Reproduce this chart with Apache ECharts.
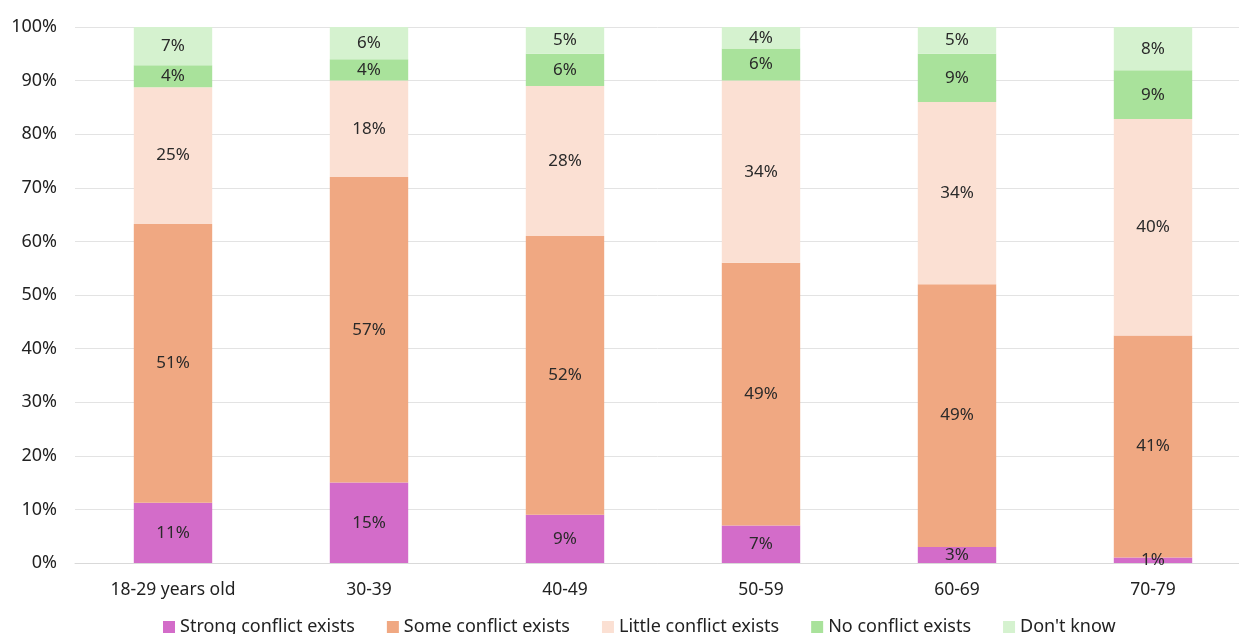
<!DOCTYPE html>
<html>
<head>
<meta charset="utf-8">
<script src="https://cdn.jsdelivr.net/npm/echarts@6/dist/echarts.min.js"></script>
<style>
html,body{margin:0;padding:0;background:#fff;}
#chart{width:1239px;height:634px;}
</style>
</head>
<body>
<div id="chart"></div>
<script>
const categories = ['18-29 years old', '30-39', '40-49', '50-59', '60-69', '70-79'];
const strongConflict = [11, 15, 9, 7, 3, 1];
const someConflict = [51, 57, 52, 49, 49, 41];
const littleConflict = [25, 18, 28, 34, 34, 40];
const noConflict = [4, 4, 6, 6, 9, 9];
const dontKnow = [7, 6, 5, 4, 5, 8];
const yTicks = ['0%', '10%', '20%', '30%', '40%', '50%', '60%', '70%', '80%', '90%', '100%'];

const seriesDefs = [
  { name: 'Strong conflict exists', data: strongConflict, color: '#d36cc9' },
  { name: 'Some conflict exists', data: someConflict, color: '#f0a882' },
  { name: 'Little conflict exists', data: littleConflict, color: '#fbe0d3' },
  { name: 'No conflict exists', data: noConflict, color: '#a9e29b' },
  { name: "Don't know", data: dontKnow, color: '#d5f2cf' }
];

const totals = categories.map((_, i) => seriesDefs.reduce((s, d) => s + d.data[i], 0));
const FONT = '"Noto Sans", "Open Sans", sans-serif';

const chart = echarts.init(document.getElementById('chart'));
chart.setOption({
  animation: false,
  backgroundColor: '#fff',
  textStyle: { fontFamily: FONT },
  grid: { left: 75, top: 27, width: 1176, height: 536, containLabel: false, outerBoundsMode: 'none' },
  legend: {
    bottom: -7,
    left: 158,
    itemWidth: 12,
    itemHeight: 12,
    itemGap: 32,
    icon: 'rect',
    textStyle: { fontSize: 18, color: '#222', fontFamily: FONT },
    data: seriesDefs.map(d => d.name)
  },
  xAxis: {
    type: 'category',
    data: categories,
    axisLine: { lineStyle: { color: '#d9d9d9', width: 1 } },
    axisTick: { show: false },
    axisLabel: { fontSize: 17.5, color: '#222', margin: 18, fontFamily: FONT }
  },
  yAxis: {
    type: 'value',
    min: 0,
    max: 100,
    interval: 10,
    axisLine: { show: false },
    axisTick: { show: false },
    splitLine: { lineStyle: { color: '#e3e3e3', width: 1 } },
    axisLabel: {
      fontSize: 18, color: '#222', margin: 18, fontFamily: FONT,
      formatter: (v) => yTicks[Math.round(v / 10)]
    }
  },
  series: seriesDefs.map(d => ({
    name: d.name,
    type: 'bar',
    stack: 'total',
    barWidth: '40%',
    itemStyle: { color: d.color },
    label: {
      show: true,
      position: 'inside',
      fontSize: 17,
      color: '#2a2a2a',
      fontFamily: FONT,
      formatter: (p) => d.data[p.dataIndex] + '%'
    },
    data: d.data.map((v, i) => v / totals[i] * 100)
  }))
});
</script>
</body>
</html>
